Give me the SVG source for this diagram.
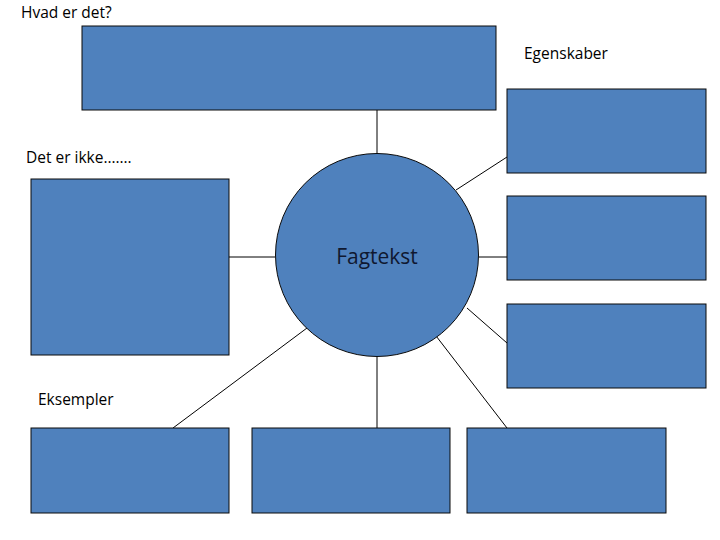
<svg xmlns="http://www.w3.org/2000/svg" width="720" height="540" viewBox="0 0 720 540">
<style>
.box{fill:#4F81BD;stroke:#0a0a0a;stroke-width:1}
.lbl{font-family:"Open Sans","Liberation Sans",sans-serif;font-size:15.5px;fill:#000}
.con line{stroke:#000;stroke-width:1}
</style>
<rect width="720" height="540" fill="#fff"/>
<g class="con">
<line x1="377" y1="110" x2="377" y2="154"/>
<line x1="456" y1="190" x2="507" y2="157"/>
<line x1="479" y1="257" x2="507" y2="257"/>
<line x1="229" y1="257" x2="275" y2="257"/>
<line x1="467" y1="308" x2="507" y2="343"/>
<line x1="433" y1="332" x2="507" y2="428"/>
<line x1="307" y1="328" x2="173" y2="428"/>
<line x1="377" y1="356" x2="377" y2="428"/>
</g>
<g id="hvad"><rect class="box" x="82" y="26" width="414" height="84"/></g>
<g id="egen1"><rect class="box" x="507" y="89" width="199" height="84"/></g>
<g id="egen2"><rect class="box" x="507" y="196" width="199" height="84"/></g>
<g id="egen3"><rect class="box" x="507" y="304" width="199" height="84"/></g>
<g id="ikke"><rect class="box" x="31" y="179" width="198" height="176"/></g>
<g id="eks1"><rect class="box" x="31" y="428" width="198" height="85"/></g>
<g id="eks2"><rect class="box" x="252" y="428" width="198" height="85"/></g>
<g id="eks3"><rect class="box" x="467" y="428" width="199" height="85"/></g>
<g id="fagtekst"><circle class="box" cx="377" cy="255" r="101.5"/>
<text x="377" y="264" text-anchor="middle" font-family="Open Sans,Liberation Sans,sans-serif" font-size="21" fill="#0f1830">Fagtekst</text></g>
<text class="lbl" x="21" y="18">Hvad er det?</text>
<text class="lbl" x="524" y="59">Egenskaber</text>
<text class="lbl" x="26" y="163">Det er ikke…….</text>
<text class="lbl" x="38" y="405">Eksempler</text>
</svg>
